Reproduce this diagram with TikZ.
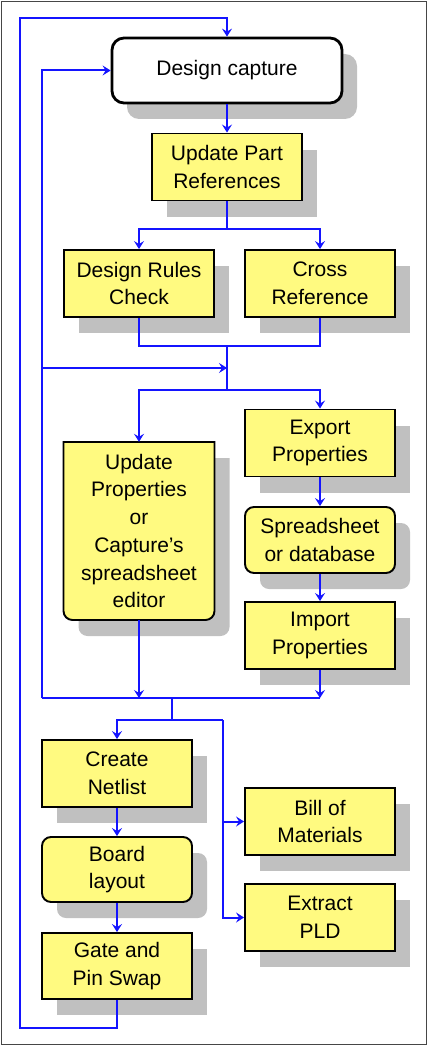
\documentclass[tikz,border=0pt]{standalone}
\usepackage{fontspec}
\setmainfont{Liberation Sans}
\usetikzlibrary{arrows.meta,shadows}

\definecolor{boxfill}{RGB}{255,250,128}
\definecolor{shadowgray}{RGB}{192,192,192}
\definecolor{wire}{RGB}{20,20,255}
\definecolor{frame}{RGB}{70,70,70}

\tikzset{
  every node/.style={font=\fontsize{21}{27.7}\selectfont, align=center, inner sep=0pt},
  boxed/.style={draw=black, line width=1.9pt, fill=boxfill,
    minimum width=150pt, minimum height=67pt,
    drop shadow={shadow xshift=15pt, shadow yshift=-16pt, fill=shadowgray, opacity=1}},
  roundbox/.style={boxed, rounded corners=9pt},
  startbox/.style={draw=black, line width=2.8pt, fill=white, rounded corners=12pt,
    minimum width=230pt, minimum height=65pt,
    drop shadow={shadow xshift=15pt, shadow yshift=-16pt, fill=shadowgray, opacity=1}},
  wireline/.style={draw=wire, line width=2pt},
  flow/.style={wireline, -{Stealth[length=8pt,width=10pt,inset=3pt]}},
}

\begin{document}
\begin{tikzpicture}[x=1pt, y=-1pt]
\useasboundingbox (0,0) rectangle (428,1046);
\draw[frame, line width=1.6pt] (1.5,1.5) rectangle (426.5,1044.5);

% ---- process boxes ----
\node[startbox] (cap) at (227,70.5) {Design capture};
\node[boxed] (upr) at (227,167) {Update Part\\References};
\node[boxed] (drc) at (139,283.5) {Design Rules\\Check};
\node[boxed] (xref) at (320,283.5) {Cross\\Reference};
\node[boxed] (exp) at (320,443) {Export\\Properties};
\node[roundbox, minimum height=66pt] (sheet) at (320,540) {Spreadsheet\\or database};
\node[boxed] (imp) at (320,635.5) {Import\\Properties};

% editor box: square top corners, rounded bottom corners
\fill[shadowgray, shift={(15,16)}] (63.5,442) -- (63.5,611)
  arc[start angle=180, end angle=90, radius=9] -- (205.5,620)
  arc[start angle=90, end angle=0, radius=9] -- (214.5,442) -- cycle;
\filldraw[fill=boxfill, draw=black, line width=1.9pt] (63.5,442) -- (63.5,611)
  arc[start angle=180, end angle=90, radius=9] -- (205.5,620)
  arc[start angle=90, end angle=0, radius=9] -- (214.5,442) -- cycle;
\node[minimum width=151pt, minimum height=178pt] (upd) at (139,531)
  {Update\\Properties\\or\\Capture’s\\spreadsheet\\editor};

\node[boxed] (net) at (117,773.5) {Create\\Netlist};
\node[roundbox, minimum height=65pt] (board) at (117,869.5) {Board\\layout};
\node[boxed, minimum height=66pt] (gate) at (117,966) {Gate and\\Pin Swap};
\node[boxed] (bom) at (320,821.5) {Bill of\\Materials};
\node[boxed] (pld) at (320,917.5) {Extract\\PLD};

% ---- junction points ----
\coordinate (outerB) at (20,1028);
\coordinate (outerT) at (20,18);
\coordinate (splitA) at (227,229);
\coordinate (joinA) at (227,346);
\coordinate (hub) at (227,368);
\coordinate (splitB) at (227,390);
\coordinate (tap) at (42,368);
\coordinate (busL) at (42,698);
\coordinate (drop) at (172,698);
\coordinate (splitC) at (172,720);
\coordinate (sideX) at (223,720);

% ---- connectors ----
\draw[flow] (gate.south) |- (outerB) -- (outerT) -| (cap.north);
\draw[flow] (cap.south) -- (upr.north);
\draw[wireline] (upr.south) -- (splitA);
\draw[flow] (splitA) -| (drc.north);
\draw[flow] (splitA) -| (xref.north);
\draw[wireline] (drc.south) |- (joinA);
\draw[wireline] (xref.south) |- (joinA);
\draw[wireline] (joinA) -- (splitB);
\draw[flow] (tap) -- (hub);
\draw[flow] (splitB) -| (upd.north);
\draw[flow] (splitB) -| (exp.north);
\draw[flow] (exp.south) -- (sheet.north);
\draw[flow] (sheet.south) -- (imp.north);
\draw[flow] (upd.south) -- (upd.south |- busL);
\draw[flow] (imp.south) -- (imp.south |- busL);
\draw[wireline] (busL) -- (imp.south |- busL);
\draw[flow] (busL) |- (cap.west);
\draw[wireline] (drop) -- (splitC) -- (sideX);
\draw[flow] (splitC) -| (net.north);
\draw[flow] (sideX) |- (bom.west);
\draw[flow] (sideX) |- (pld.west);
\draw[flow] (net.south) -- (board.north);
\draw[flow] (board.south) -- (gate.north);
\end{tikzpicture}
\end{document}
